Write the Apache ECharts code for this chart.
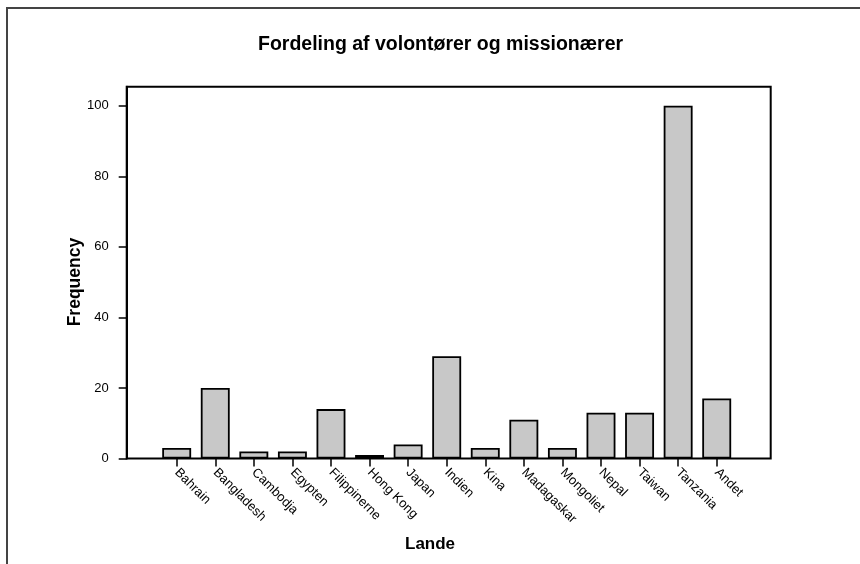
<!DOCTYPE html>
<html>
<head>
<meta charset="utf-8">
<script src="https://cdn.jsdelivr.net/npm/echarts@6/dist/echarts.min.js"></script>
<style>
  html, body { margin: 0; padding: 0; background: #fff; }
  #frame { position: absolute; left: 6px; top: 7px; width: 900px; height: 600px;
           border-top: 2px solid #444; border-left: 2px solid #444; }
  #chart { position: absolute; left: 0; top: 0; width: 860px; height: 564px; }
</style>
</head>
<body>
<div id="frame"></div>
<div id="chart"></div>
<script>
// lande og antal
var lande = ['Bahrain', 'Bangladesh', 'Cambodja', 'Egypten', 'Filippinerne', 'Hong Kong',
    'Japan', 'Indien', 'Kina', 'Madagaskar', 'Mongoliet', 'Nepal', 'Taiwan', 'Tanzania', 'Andet'];
var antal = [3, 20, 2, 2, 14, 1, 4, 29, 3, 11, 3, 13, 13, 100, 17];
var yTicks = [0, 20, 40, 60, 80, 100];
var yMax = 105.4;

var chart = echarts.init(document.getElementById('chart'));
var font = 'Liberation Sans, Arial, sans-serif';

var option = {
    animation: false,
    backgroundColor: 'transparent',
    title: [{
        text: 'Fordeling af volontører og missionærer',
        left: 258,
        top: 35,
        padding: 0,
        textStyle: { fontFamily: font, fontSize: 19.5, fontWeight: 'bold', color: '#000' }
    }, {
        text: 'Lande',
        left: 405,
        top: 536,
        padding: 0,
        textStyle: { fontFamily: font, fontSize: 17, fontWeight: 'bold', color: '#000' }
    }],
    grid: [
        // ramme
        { left: 126.7, right: 89.3, top: 86.7, bottom: 105.5, show: true,
          borderColor: '#000', borderWidth: 2, backgroundColor: 'transparent' },
        // søjler
        { left: 157.4, right: 124, top: 86.7, bottom: 105.5 }
    ],
    xAxis: [
        { gridIndex: 0, type: 'value', min: 0, max: 1, show: false },
        {
            gridIndex: 1, type: 'category', data: lande,
            axisLine: { show: false },
            axisTick: { show: true, alignWithLabel: true, length: 8,
                        lineStyle: { color: '#000', width: 1.5 } },
            axisLabel: { rotate: -45, margin: 12, interval: 0, color: '#000',
                         fontFamily: font, fontSize: 13 }
        }
    ],
    yAxis: [
        {
            gridIndex: 0, type: 'value', min: 0, max: yMax,
            name: 'Frequency', nameLocation: 'middle', nameGap: 43,
            nameMoveOverlap: false,
            nameTextStyle: { fontFamily: font, fontSize: 17.5, fontWeight: 'bold',
                             color: '#000', padding: [0, 19, 0, 0] },
            splitLine: { show: false },
            axisLine: { show: true, lineStyle: { color: '#000', width: 2 } },
            axisTick: { show: true, length: 8, customValues: yTicks,
                        lineStyle: { color: '#000', width: 1.5 } },
            axisLabel: { customValues: yTicks, margin: 18, color: '#000',
                         fontFamily: font, fontSize: 13 }
        },
        { gridIndex: 1, type: 'value', min: 0, max: yMax, show: false }
    ],
    series: [{
        type: 'bar',
        xAxisIndex: 1,
        yAxisIndex: 1,
        data: antal,
        barWidth: '75%',
        itemStyle: { color: '#c8c8c8', borderColor: '#000', borderWidth: 1.8 }
    }]
};

chart.setOption(option);
</script>
</body>
</html>
